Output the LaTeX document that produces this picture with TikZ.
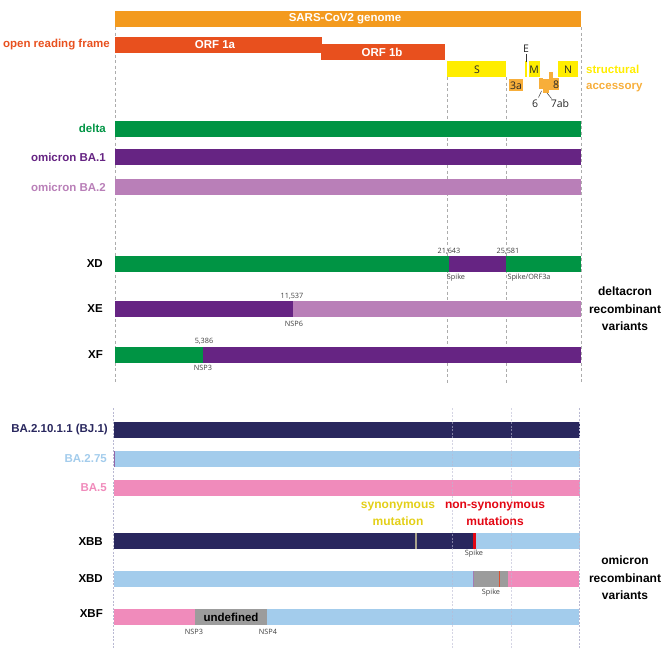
\documentclass[tikz,border=0pt]{standalone}
\usepackage{fontspec}
\setmainfont{Liberation Sans}
\newfontfamily\smallf{Open Sans}
\definecolor{cgenome}{HTML}{F39A1E}
\definecolor{corf}{HTML}{E8501E}
\definecolor{cyel}{HTML}{FFED00}
\definecolor{cacc}{HTML}{F7AE3A}
\definecolor{cgreen}{HTML}{009444}
\definecolor{cpurple}{HTML}{662483}
\definecolor{clpurple}{HTML}{B97FB8}
\definecolor{cnavy}{HTML}{29275E}
\definecolor{cblue}{HTML}{A3CCEC}
\definecolor{cpink}{HTML}{F08BBB}
\definecolor{cgray}{HTML}{9C9C9C}
\definecolor{csyn}{HTML}{E3CF18}
\definecolor{cred}{HTML}{E30613}
\definecolor{cguideb}{HTML}{B9B9D2}
\definecolor{csynline}{HTML}{A9A48C}
\definecolor{cxbdred}{HTML}{D9502F}
\begin{document}
\begin{tikzpicture}[x=1pt,y=-1pt,
  lab/.style={font=\bfseries\fontsize{11.5}{13}\selectfont, inner sep=0pt},
  rlab/.style={lab, anchor=east},
  biglab/.style={font=\bfseries\fontsize{12}{17.5}\selectfont, inner sep=0pt, align=center},
  tinylab/.style={font=\smallf\fontsize{7.3}{8}\selectfont, inner sep=0pt, text=black!75},
  glab/.style={font=\smallf\fontsize{10.5}{11}\selectfont, inner sep=0pt, text=black!85},
  guide/.style={draw=gray!65, dash pattern=on 3pt off 2.5pt, line width=0.6pt},
  guideb/.style={draw=cguideb, dash pattern=on 2pt off 1.5pt, line width=0.6pt},
  leader/.style={draw=black!80, line width=0.5pt}]
\useasboundingbox (0,0) rectangle (663,651);

% ---------- top guides ----------
\draw[guide] (115,27) -- (115,383);
\draw[guide] (447,77) -- (447,383);
\draw[guide] (506,77) -- (506,383);
\draw[guide] (581,27) -- (581,383);

% ---------- genome ----------
\fill[cgenome] (115,11) rectangle (581,27);
\node[lab, text=white] (genome) at (345,19) {SARS-CoV2 genome};
\fill[corf] (115,37) rectangle (322,53);
\fill[corf] (321,44) rectangle (445,60);
\node[lab, text=white] (orf1a) at (215,45) {ORF 1a};
\node[lab, text=white] (orf1b) at (382,52) {ORF 1b};
\node[rlab, text=corf] (orflab) at (110,45) {open reading frame};

% structural
\fill[cyel] (447,61) rectangle (506,77);
\fill[cyel] (524.5,61) rectangle (527,77);
\fill[cyel] (529,61) rectangle (539.5,77);
\fill[cyel] (558,61) rectangle (578,77);
\node[glab] (sl) at (477,69.5) {S};
\node[glab] (ml) at (534,69.5) {M};
\node[glab] (nl) at (568,69.5) {N};
\node[glab] (el) at (526,49) {E};
\coordinate (etip) at (526,62);
\draw[leader] (el.south) ++(0,1) -- (etip);
% accessory
\fill[cacc] (509,79) rectangle (523,91);
\node[glab] (l3a) at (516,85.5) {3a};
\fill[cacc] (539,78) rectangle (543,89);
\fill[cacc] (543,79) rectangle (549,93);
\fill[cacc] (549,72) rectangle (553,90);
\fill[cacc] (553,78) rectangle (559,90);
\node[glab] (l8) at (556,85) {8};
\node[glab] (l6) at (535,103.5) {6};
\node[glab] (l7) at (560,103.5) {7ab};
\coordinate (six) at (541.5,91);
\coordinate (seven) at (547,93);
\draw[leader] (538.5,97.5) -- (six);
\draw[leader] (551.5,98.5) -- (seven);
\node[lab, text=cyel, anchor=west] (struct) at (586,69) {structural};
\node[lab, text=cacc, anchor=west] (acc) at (586,88) {accessory};

% ---------- parents ----------
\fill[cgreen] (115,121) rectangle (581,137);
\node[rlab, text=cgreen] (ldelta) at (106,128.5) {delta};
\fill[cpurple] (115,149) rectangle (581,165);
\node[rlab, text=cpurple] (lba1) at (106,157) {omicron BA.1};
\fill[clpurple] (115,179) rectangle (581,195);
\node[rlab, text=clpurple] (lba2) at (106,187) {omicron BA.2};

% ---------- deltacron ----------
\fill[cgreen] (115,256) rectangle (449,272);
\fill[cpurple] (449,256) rectangle (506,272);
\fill[cgreen] (506,256) rectangle (581,272);
\node[rlab] (lxd) at (103,264) {XD};
\node[tinylab] (n1) at (449,251) {21,643};
\node[tinylab] (n2) at (508,251) {25,581};
\node[tinylab] (g1) at (456,277.5) {Spike};
\node[tinylab] (g2) at (529,277.5) {Spike/ORF3a};

\fill[cpurple] (115,301) rectangle (293,317);
\fill[clpurple] (293,301) rectangle (581,317);
\node[rlab] (lxe) at (103,309) {XE};
\node[tinylab] (n3) at (292,296) {11,537};
\node[tinylab] (g3) at (294,324) {NSP6};

\fill[cgreen] (115,347) rectangle (203,363);
\fill[cpurple] (203,347) rectangle (581,363);
\node[rlab] (lxf) at (103,355) {XF};
\node[tinylab] (n4) at (204,341.5) {5,386};
\node[tinylab] (g4) at (203,368) {NSP3};

\node[biglab] (deltacron) at (625,309) {deltacron\\recombinant\\variants};

% ---------- omicron parents ----------
\fill[cnavy] (114,422) rectangle (580,438);
\node[rlab, text=cnavy] (lbj) at (108,430) {BA.2.10.1.1 (BJ.1)};
\fill[cblue] (114,451) rectangle (580,467);
\fill[cpurple!70] (114,451) rectangle (115,467);
\node[rlab, text=cblue] (lba275) at (107,459) {BA.2.75};
\fill[cpink] (114,480) rectangle (580,496);
\node[rlab, text=cpink] (lba5) at (107,488) {BA.5};

\node[biglab, text=csyn] (syn) at (398,514) {synonymous\\mutation};
\node[biglab, text=cred] (nonsyn) at (495,514) {non-synonymous\\mutations};

% ---------- omicron recombinants ----------
\fill[cnavy] (114,533) rectangle (473,549);
\fill[cred] (473,533) rectangle (475.5,549);
\fill[cblue] (475.5,533) rectangle (580,549);
\fill[csynline] (415.3,533) rectangle (416.8,549);
\node[rlab] (lxbb) at (103,541.5) {XBB};
\node[tinylab] (g5) at (474,554) {Spike};

\fill[cblue] (114,571) rectangle (473,587);
\fill[cgray] (473,571) rectangle (508,587);
\fill[cpurple!60] (472.5,571) rectangle (473.5,587);
\fill[cxbdred] (498.5,571) rectangle (500,587);
\fill[cpink] (508,571) rectangle (579,587);
\node[rlab] (lxbd) at (103,579) {XBD};
\node[tinylab] (g6) at (491,593) {Spike};

\fill[cpink] (114,609) rectangle (195,625);
\fill[cgray] (195,609) rectangle (267,625);
\fill[cblue] (267,609) rectangle (579,625);
\node[lab] (undef) at (231,617) {undefined};
\node[rlab] (lxbf) at (103,613.5) {XBF};
\node[tinylab] (g7) at (194,632) {NSP3};
\node[tinylab] (g8) at (268,632) {NSP4};

\node[biglab] (omirec) at (625,578) {omicron\\recombinant\\variants};

% ---------- bottom guides ----------
\draw[guideb] (113.5,408) -- (113.5,648);
\draw[guideb, opacity=0.6] (452,408) -- (452,648);
\draw[guideb, opacity=0.6] (511.5,408) -- (511.5,648);
\draw[guideb] (579.5,408) -- (579.5,648);
\end{tikzpicture}
\end{document}
